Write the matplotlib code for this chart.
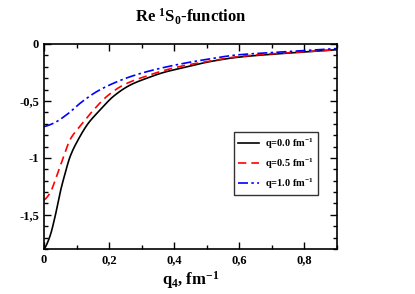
import numpy as np
import matplotlib.pyplot as plt
from matplotlib.ticker import MultipleLocator, FuncFormatter

plt.rcParams['font.family'] = 'Liberation Serif'
plt.rcParams['font.weight'] = 'bold'
plt.rcParams['axes.labelweight'] = 'bold'
plt.rcParams['mathtext.fontset'] = 'custom'
plt.rcParams['mathtext.rm'] = 'Liberation Serif:bold'
plt.rcParams['mathtext.it'] = 'Liberation Serif:bold'
plt.rcParams['mathtext.bf'] = 'Liberation Serif:bold'
plt.rcParams['axes.unicode_minus'] = False

# --- data ---
q4_q0 = [0.0, 0.018, 0.034, 0.049, 0.065, 0.08, 0.105, 0.136, 0.172, 0.213, 0.265, 0.316, 0.367,
         0.44, 0.50, 0.593, 0.70, 0.80, 0.90]
re_q0 = [-1.80, -1.69, -1.515, -1.31, -1.134, -0.99, -0.84, -0.696, -0.58, -0.46, -0.36, -0.30, -0.25,
         -0.20, -0.16, -0.117, -0.09, -0.07, -0.05]

q4_q05 = [0.0, 0.018, 0.039, 0.06, 0.08, 0.111, 0.152, 0.193, 0.244, 0.316, 0.378, 0.44, 0.50,
          0.593, 0.70, 0.80, 0.90]
re_q05 = [-1.37, -1.31, -1.16, -0.99, -0.84, -0.72, -0.58, -0.46, -0.36, -0.28, -0.225, -0.184, -0.155,
          -0.112, -0.086, -0.068, -0.05]

q4_q1 = [0.0, 0.029, 0.07, 0.111, 0.162, 0.213, 0.265, 0.336, 0.44, 0.50, 0.593, 0.70, 0.80, 0.90]
re_q1 = [-0.725, -0.696, -0.62, -0.52, -0.418, -0.345, -0.287, -0.228, -0.164, -0.135, -0.096,
         -0.075, -0.058, -0.04]

labels = [r'q=0.0 fm$^{-1}$', r'q=0.5 fm$^{-1}$', r'q=1.0 fm$^{-1}$']


def smooth(x, y):
    # monotone cubic interpolation of the read-off points
    x = np.asarray(x); y = np.asarray(y)
    xs = np.linspace(x[0], x[-1], 400)
    h = np.diff(x); d = np.diff(y) / h
    m = np.zeros_like(y)
    for k in range(1, len(x) - 1):
        if d[k - 1] * d[k] > 0:
            w1 = 2 * h[k] + h[k - 1]; w2 = h[k] + 2 * h[k - 1]
            m[k] = (w1 + w2) / (w1 / d[k - 1] + w2 / d[k])
    m[0] = d[0] * 0.5; m[-1] = d[-1]
    idx = np.clip(np.searchsorted(x, xs) - 1, 0, len(x) - 2)
    t = (xs - x[idx]) / h[idx]
    h00 = 2*t**3 - 3*t**2 + 1; h10 = t**3 - 2*t**2 + t
    h01 = -2*t**3 + 3*t**2; h11 = t**3 - t**2
    ys = h00*y[idx] + h10*h[idx]*m[idx] + h01*y[idx+1] + h11*h[idx]*m[idx+1]
    return xs, ys


fig = plt.figure(figsize=(4.15, 2.94), dpi=100)
ax = fig.add_axes([44/415, 1 - 249/294, 293/415, 205/294])

x, y = smooth(q4_q0, re_q0)
ax.plot(x, y, color='black', lw=1.2, label=labels[0])
x, y = smooth(q4_q05, re_q05)
ax.plot(x, y, color='red', lw=1.2, ls=(0, (5, 3)), label=labels[1])
x, y = smooth(q4_q1, re_q1)
ax.plot(x, y, color='blue', lw=1.2, ls=(0, (6, 2, 1.5, 2)), label=labels[2])

ax.set_xlim(0, 0.9)
ax.set_ylim(-1.8, 0)
ax.xaxis.set_major_locator(MultipleLocator(0.2))
ax.xaxis.set_minor_locator(MultipleLocator(0.1))
ax.yaxis.set_major_locator(MultipleLocator(0.5))
ax.yaxis.set_minor_locator(MultipleLocator(0.1))
fmt = FuncFormatter(lambda v, p: ('%g' % round(v, 2)).replace('.', ','))
ax.xaxis.set_major_formatter(fmt)
ax.yaxis.set_major_formatter(fmt)
ax.tick_params(which='both', direction='in', top=True, right=True, labelsize=9, width=1)
ax.tick_params(which='major', length=5)
ax.tick_params(which='minor', length=3)
for s in ax.spines.values():
    s.set_linewidth(1.2)

ax.set_xlabel(r'q$_4$, fm$^{-1}$', fontsize=12, labelpad=2)
fig.text(0.5 * (44 + 337) / 415, 1 - 17/294, r'Re $^{1}$S$_{0}$-function', ha='center', va='center', fontsize=12)

leg = ax.legend(loc='upper left', bbox_to_anchor=((234-44)/293, (249-132)/205), fontsize=7.5,
                frameon=True, fancybox=False, edgecolor='black', handlelength=2.0,
                borderpad=0.4, labelspacing=0.55, handletextpad=0.6, borderaxespad=0)
leg.get_frame().set_linewidth(1.0)

fig.savefig('out.png', dpi=100)
